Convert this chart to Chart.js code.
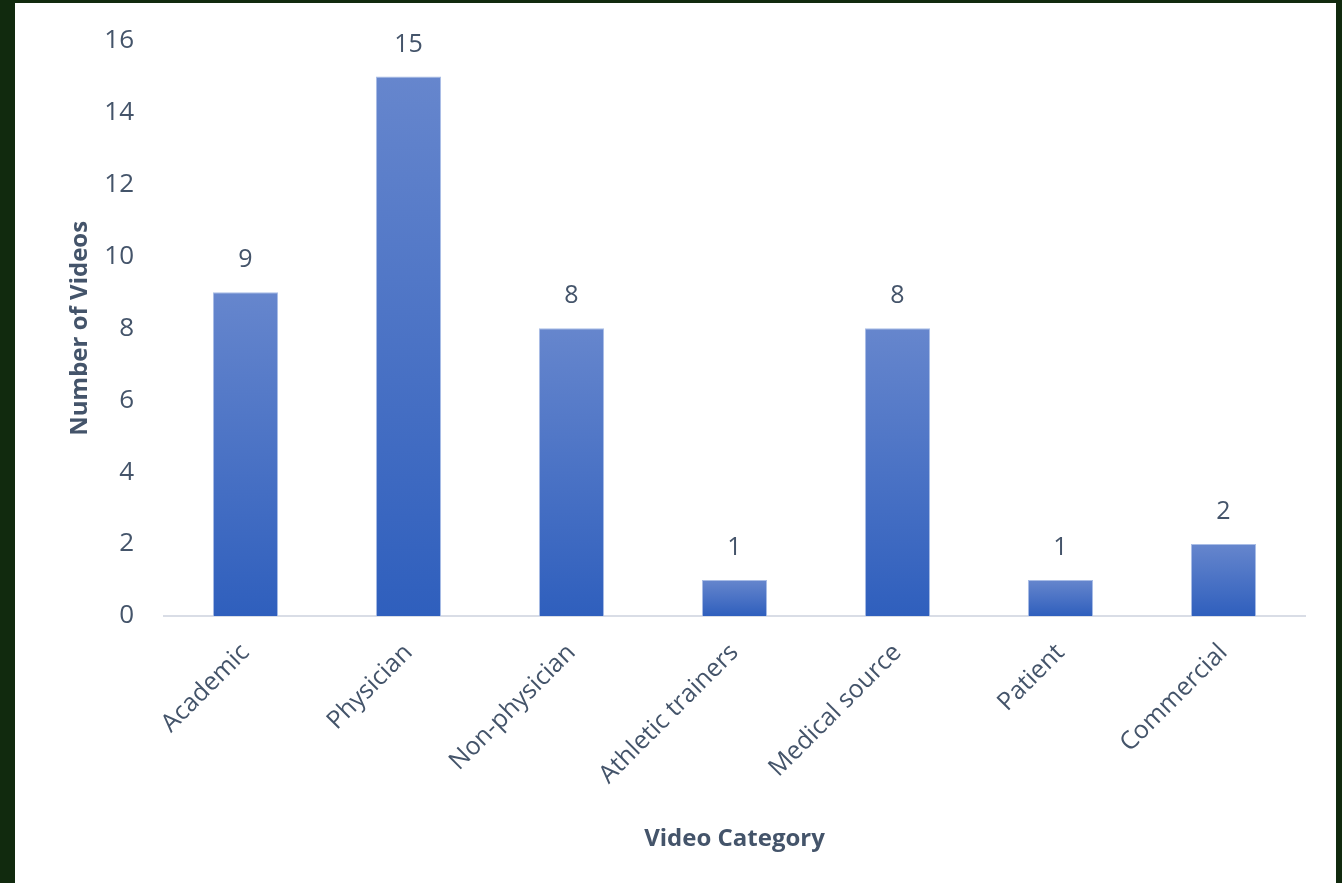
<!DOCTYPE html>
<html>
<head>
<meta charset="utf-8">
<script src="https://cdn.jsdelivr.net/npm/chart.js@4/dist/chart.umd.min.js"></script>
<style>
    html, body { margin: 0; padding: 0; background: #112a0e; }
    #frame {
        position: absolute;
        left: 15px; top: 3px;
        width: 1321px; height: 880px;
        background: #ffffff;
    }
</style>
</head>
<body>
<div id="frame"><canvas id="chart" width="1321" height="880"></canvas></div>
<script>
const categories = ['Academic', 'Physician', 'Non-physician', 'Athletic trainers', 'Medical source', 'Patient', 'Commercial'];
const videoCounts = [9, 15, 8, 1, 8, 1, 2];
const yTicks = [0, 2, 4, 6, 8, 10, 12, 14, 16];

const textColor = '#44546a';
const fontFamily = '"Open Sans", sans-serif';

// bar labels drawn above each bar
const valueLabels = {
    id: 'valueLabels',
    afterDatasetsDraw(chart) {
        const ctx = chart.ctx;
        const meta = chart.getDatasetMeta(0);
        ctx.save();
        ctx.fillStyle = textColor;
        ctx.font = '25px ' + fontFamily;
        ctx.textAlign = 'center';
        ctx.textBaseline = 'middle';
        meta.data.forEach((bar, i) => {
            ctx.fillText(videoCounts[i], bar.x, bar.y - 32);
        });
        ctx.restore();
    }
};

new Chart(document.getElementById('chart').getContext('2d'), {
    type: 'bar',
    data: {
        labels: categories,
        datasets: [{
            data: videoCounts,
            backgroundColor: (c) => {
                const chart = c.chart;
                if (!chart.chartArea || c.type !== 'data') return '#4470c8';
                const y = chart.scales.y;
                const top = y.getPixelForValue(c.raw);
                const base = y.getPixelForValue(0);
                const g = chart.ctx.createLinearGradient(0, top, 0, base);
                g.addColorStop(0, '#6686cd');
                g.addColorStop(1, '#2f5fbd');
                return g;
            },
            borderColor: '#a9bde6',
            borderWidth: 1,
            categoryPercentage: 1,
            barPercentage: 0.4
        }]
    },
    options: {
        responsive: false,
        animation: false,
        layout: { padding: { top: 14, right: 31, left: 51, bottom: 0 } },
        plugins: {
            legend: { display: false },
            tooltip: { enabled: false }
        },
        scales: {
            x: {
                grid: { display: false },
                border: { color: '#d9dde6', width: 2 },
                ticks: {
                    color: textColor,
                    font: { family: fontFamily, size: 25 },
                    maxRotation: 45,
                    minRotation: 45,
                    padding: 14
                },
                title: {
                    display: true,
                    text: 'Video Category',
                    color: textColor,
                    font: { family: fontFamily, size: 24, weight: 'bold' },
                    padding: { top: 8, bottom: 29 }
                },
                afterFit: (s) => { s.height = 267; }
            },
            y: {
                min: 0,
                max: 16,
                grid: { display: false },
                border: { display: false },
                afterBuildTicks: (s) => { s.ticks = yTicks.map(v => ({ value: v })); },
                ticks: {
                    color: textColor,
                    font: { family: fontFamily, size: 26 },
                    padding: 22
                },
                title: {
                    display: true,
                    text: 'Number of Videos',
                    color: textColor,
                    font: { family: fontFamily, size: 24, weight: 'bold' },
                    padding: { top: 0, bottom: 14 }
                },
                afterFit: (s) => { s.width = 98; }
            }
        }
    },
    plugins: [valueLabels]
});
</script>
</body>
</html>
